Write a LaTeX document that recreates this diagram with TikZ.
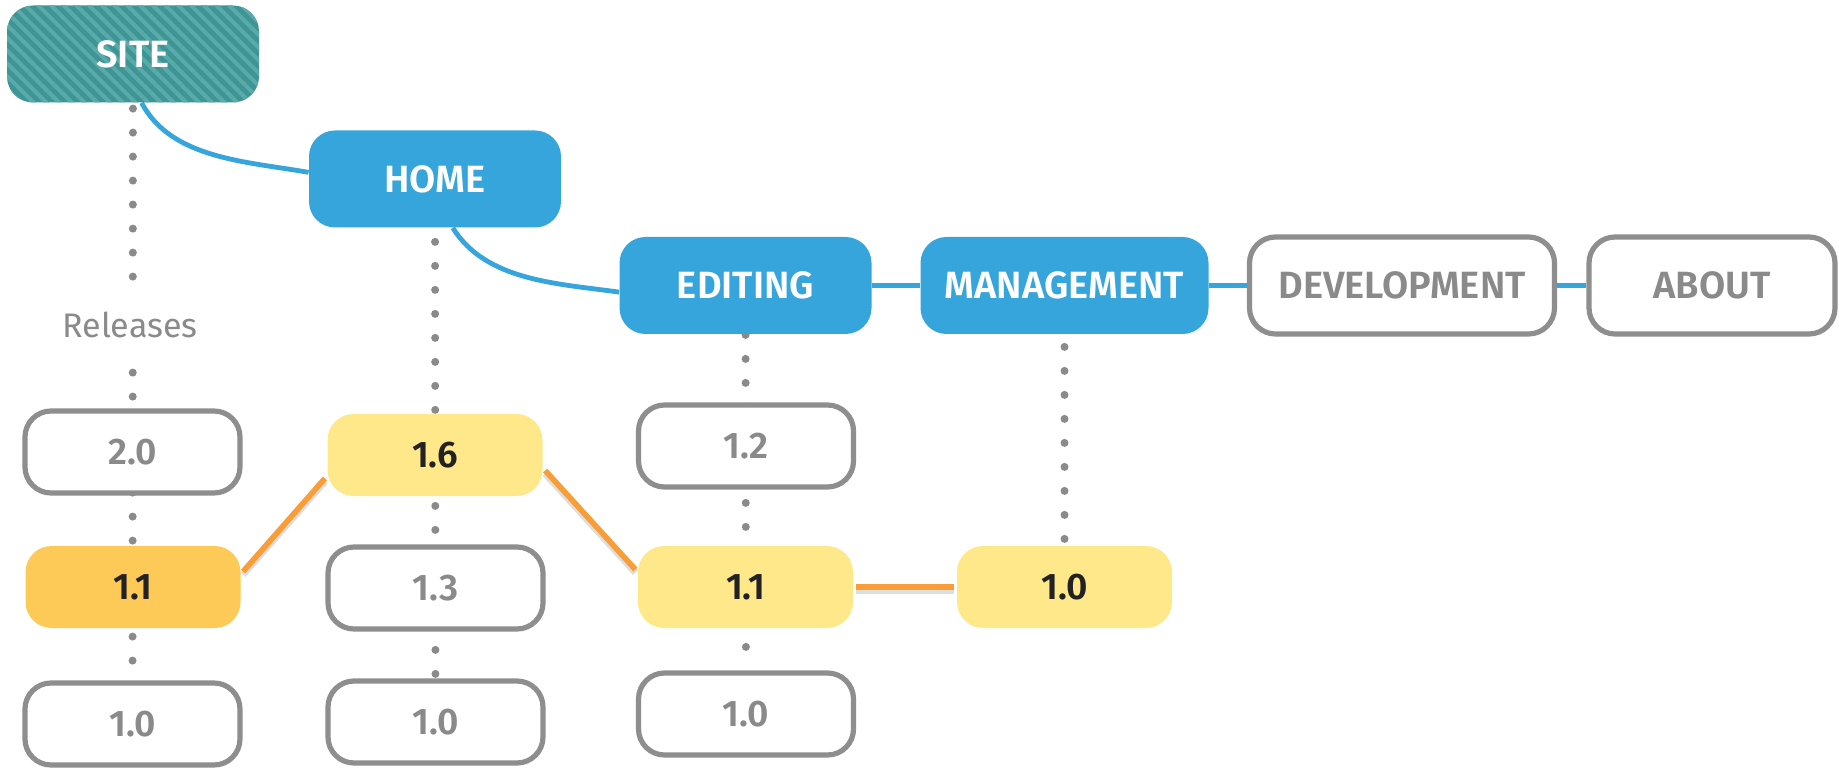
\documentclass[tikz,border=0pt]{standalone}
\usepackage{fontspec}
\setmainfont{Fira Sans}[BoldFont={Fira Sans SemiBold}]
\usetikzlibrary{backgrounds,patterns.meta}
\definecolor{sitebase}{HTML}{3F9595}
\definecolor{sitestripe}{HTML}{58ABA9}
\definecolor{areablue}{HTML}{35A5DB}
\definecolor{boxgray}{HTML}{8E8E8E}
\definecolor{textgray}{HTML}{8A8A8A}
\definecolor{pickyellow}{HTML}{FFE88A}
\definecolor{curyellow}{HTML}{FDCA58}
\definecolor{linkorange}{HTML}{F99E36}
\definecolor{darktext}{HTML}{222222}

\tikzset{
  topbox/.style={rectangle, rounded corners=13pt, minimum width=126pt, minimum height=48.5pt, inner sep=0pt, font=\fontsize{19}{22}\selectfont\bfseries},
  sitebox/.style={topbox, fill=sitebase, text=white, postaction={pattern={Lines[angle=-45,distance=4.5pt,line width=2pt]}, pattern color=sitestripe}},
  areabox/.style={topbox, fill=areablue, text=white},
  areaoff/.style={topbox, fill=white, draw=boxgray, line width=2.6pt, text=textgray},
  relbox/.style={rectangle, rounded corners=13pt, minimum width=107.5pt, minimum height=41pt, inner sep=0pt, font=\fontsize{18.5}{21}\selectfont\bfseries, fill=white, draw=boxgray, line width=2.6pt, text=textgray},
  relpick/.style={relbox, draw=none, fill=pickyellow, text=darktext},
  relcur/.style={relpick, fill=curyellow},
  arealink/.style={draw=areablue, line width=2.4pt},
  rellink/.style={draw=linkorange, line width=2.8pt, preaction={draw=black!13, line width=3.4pt, transform canvas={yshift=-1.6pt}}},
  reldots/.style={draw=textgray, line width=4pt, line cap=round, dash pattern=on 0pt off 12pt},
}

\begin{document}
\begin{tikzpicture}[x=0.5pt, y=-0.5pt]
  \useasboundingbox (0,0) rectangle (1839,769);

  % Site sections
  \node[sitebox] (site) at (133,54) {SITE};
  \node[areabox] (home) at (435,179) {HOME};
  \node[areabox] (editing) at (745.5,285.5) {EDITING};
  \node[areabox, minimum width=144pt] (management) at (1064.5,285.5) {MANAGEMENT};
  \node[areaoff, minimum width=152.5pt] (development) at (1402,285.5) {DEVELOPMENT};
  \node[areaoff, minimum width=123pt] (about) at (1712,285.5) {ABOUT};

  \node[fill=white, text=textgray, font=\fontsize{17}{20}\selectfont, inner sep=9pt] (releases) at (130,325) {Releases};

  % Releases of each section
  \node[relbox] (a20) at (132.5,452) {2.0};
  \node[relcur] (a11) at (133,587) {1.1};
  \node[relbox] (a10) at (132.5,724) {1.0};

  \node[relpick] (b16) at (435,455) {1.6};
  \node[relbox] (b13) at (435.5,588) {1.3};
  \node[relbox] (b10) at (435.5,722) {1.0};

  \node[relbox] (c12) at (746,446) {1.2};
  \node[relpick] (c11) at (745.5,587) {1.1};
  \node[relbox] (c10) at (746,714) {1.0};

  \node[relpick] (d10) at (1064.5,587) {1.0};

  \begin{pgfonlayer}{background}
    % Release lines
    \draw[reldots, dash phase=9.15pt] (site) -- (a10);
    \draw[reldots, dash phase=5pt] (home) -- (b10);
    \draw[reldots, dash phase=11.75pt] (editing) -- (c10);
    \draw[reldots, dash phase=5.75pt] (management) -- (d10);

    % Section tree
    \draw[arealink] (site.-80) to[out=-62, in=170, looseness=0.9] (home.177);
    \draw[arealink] (home.-70) to[out=-58, in=172, looseness=0.9] (editing.183);
    \draw[arealink] (editing) -- (management);
    \draw[arealink] (management) -- (development);
    \draw[arealink] (development) -- (about);

    % Selected releases
    \draw[rellink] (a11.8) -- (b16.192);
    \draw[rellink] (b16.-8) -- (c11.171);
    \draw[rellink] (c11) -- (d10);
  \end{pgfonlayer}
\end{tikzpicture}
\end{document}
